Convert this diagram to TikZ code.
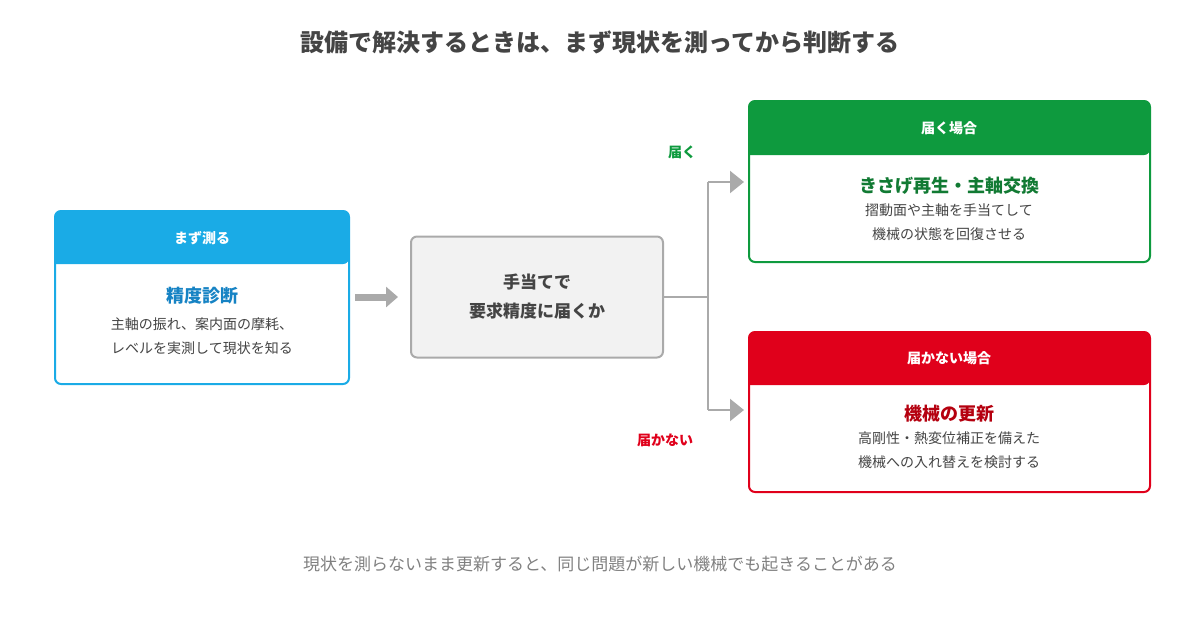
\documentclass[tikz,border=0pt]{standalone}
\usepackage{fontspec}
\setmainfont{Noto Sans CJK JP}
\usetikzlibrary{positioning,calc,arrows.meta}
\definecolor{cblue}{HTML}{1AABE6}
\definecolor{tblue}{HTML}{1683C4}
\definecolor{cgreen}{HTML}{0E9A3E}
\definecolor{tgreen}{HTML}{117A33}
\definecolor{cred}{HTML}{E0001B}
\definecolor{tred}{HTML}{B5000F}
\definecolor{cgray}{HTML}{AAAAAA}
\definecolor{ctext}{HTML}{444444}
\tikzset{
  card/.style={draw=#1, line width=2pt, rounded corners=6pt, fill=white},
  head/.style={font=\bfseries\fontsize{14}{16}\selectfont, text=white},
  ttl/.style={font=\bfseries\fontsize{18}{20}\selectfont},
  body/.style={font=\fontsize{14}{24}\selectfont, text=ctext, align=center},
  flow/.style={draw=cgray, line width=2.2pt},
  tip/.style={-{Triangle[length=12pt,width=20pt]}, draw=cgray, line width=7pt}
}
\begin{document}
\begin{tikzpicture}[x=1pt,y=-1pt]
\useasboundingbox (0,0) rectangle (1200,630);
\node (title) at (600,42) [font=\bfseries\fontsize{24}{28}\selectfont, text=ctext] {設備で解決するときは、まず現状を測ってから判断する};

% left card
\draw[card=cblue] (55,211) rectangle (349,384);
\fill[cblue, rounded corners=6pt] (55,264) -- (55,211) -- (349,211) -- (349,264) [sharp corners] -- cycle;
\node (mh) at (202,238) [head] {まず測る};
\node (mt) at (202,296) [ttl, text=tblue] {精度診断};
\node (mb) at (202,336) [body] {主軸の振れ、案内面の摩耗、\\レベルを実測して現状を知る};

% middle
\node (q) at (537,297) [draw=cgray, line width=2pt, fill=black!5, rounded corners=6pt,
  minimum width=252pt, minimum height=121pt, align=center,
  font=\bfseries\fontsize{17}{29}\selectfont, text=ctext] {手当てで\\要求精度に届くか};
\coordinate (a1) at (355,297);
\coordinate (a2) at (398,297);
\draw[tip] (a1) -- (a2);

% branches
\coordinate (j) at (708,297);
\coordinate (ju) at (708,182);
\coordinate (jd) at (708,410);
\coordinate (eu) at (744,182);
\coordinate (ed) at (744,410);
\draw[flow] (q.east) -- (j);
\draw[flow] (ju) -- (jd);
\draw[-{Triangle[length=14pt,width=22pt]}, draw=cgray, line width=2.2pt] (ju) -- (eu);
\draw[-{Triangle[length=14pt,width=22pt]}, draw=cgray, line width=2.2pt] (jd) -- (ed);
\node (ly) at (682,152) [font=\bfseries\fontsize{14}{16}\selectfont, text=cgreen] {届く};
\node (ln) at (665,440) [font=\bfseries\fontsize{14}{16}\selectfont, text=cred] {届かない};

% green card
\draw[card=cgreen] (749,101) rectangle (1150,262);
\fill[cgreen, rounded corners=6pt] (749,155) -- (749,101) -- (1150,101) -- (1150,155) [sharp corners] -- cycle;
\node (gh) at (949,128) [head] {届く場合};
\node (gt) at (949,186) [ttl, text=tgreen] {きさげ再生・主軸交換};
\node (gb) at (949,222) [body] {摺動面や主軸を手当てして\\機械の状態を回復させる};

% red card
\draw[card=cred] (749,332) rectangle (1150,492);
\fill[cred, rounded corners=6pt] (749,385) -- (749,332) -- (1150,332) -- (1150,385) [sharp corners] -- cycle;
\node (rh) at (949,358) [head] {届かない場合};
\node (rt) at (949,414) [ttl, text=tred] {機械の更新};
\node (rb) at (949,450) [body] {高剛性・熱変位補正を備えた\\機械への入れ替えを検討する};

\node (foot) at (600,564) [font=\fontsize{17}{20}\selectfont, text=black!50] {現状を測らないまま更新すると、同じ問題が新しい機械でも起きることがある};
\end{tikzpicture}
\end{document}
